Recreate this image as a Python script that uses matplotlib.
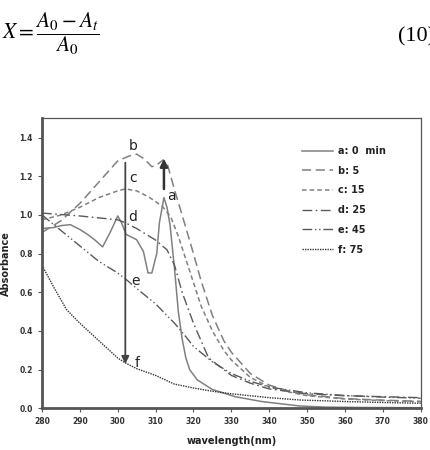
import numpy as np
import matplotlib
matplotlib.use('Agg')
import matplotlib.pyplot as plt

plt.rcParams['mathtext.fontset'] = 'stix'
plt.rcParams['font.family'] = 'DejaVu Sans'

# spectra (wavelength nm, absorbance)
wl_a = [280, 283, 285, 287.5, 290, 292, 294, 296, 298, 300, 301, 302.2, 305, 306.8, 308, 309, 310.3, 311, 312.2, 313, 313.8, 315, 316, 317, 318, 319, 321, 325, 331, 338, 348, 355, 365, 380]
ab_a = [0.93, 0.935, 0.945, 0.95, 0.925, 0.90, 0.87, 0.835, 0.91, 0.995, 0.96, 0.90, 0.872, 0.81, 0.70, 0.70, 0.80, 0.96, 1.09, 1.04, 0.95, 0.72, 0.50, 0.36, 0.26, 0.20, 0.147, 0.097, 0.06, 0.035, 0.012, 0.006, 0.004, 0.003]

wl_b = [280, 285, 290, 295, 300, 303, 305, 307, 309, 310, 312, 313, 315, 317, 320, 322, 325, 328, 330, 335, 340, 345, 350, 360, 370, 380]
ab_b = [0.91, 0.97, 1.06, 1.17, 1.28, 1.305, 1.315, 1.29, 1.25, 1.255, 1.285, 1.27, 1.13, 1.00, 0.80, 0.66, 0.48, 0.35, 0.29, 0.18, 0.12, 0.09, 0.07, 0.05, 0.042, 0.036]

wl_c = [280, 285, 290, 295, 300, 302, 305, 308, 310, 312, 314, 316, 318, 320, 322, 325, 328, 330, 335, 340, 345, 350, 360, 370, 380]
ab_c = [0.975, 1.0, 1.04, 1.09, 1.125, 1.135, 1.125, 1.095, 1.07, 1.04, 0.99, 0.89, 0.77, 0.65, 0.53, 0.40, 0.30, 0.25, 0.16, 0.11, 0.085, 0.065, 0.048, 0.04, 0.034]

wl_d = [280, 290, 300, 302, 305, 310, 313, 315, 317, 320, 324, 330, 335, 340, 350, 360, 370, 380]
ab_d = [1.01, 0.995, 0.975, 0.96, 0.93, 0.87, 0.82, 0.74, 0.60, 0.44, 0.26, 0.17, 0.13, 0.10, 0.075, 0.065, 0.06, 0.055]

wl_e = [280, 285, 290, 295, 300, 302, 305, 310, 315, 318, 320, 325, 330, 335, 340, 350, 360, 370, 380]
ab_e = [1.0, 0.92, 0.84, 0.76, 0.70, 0.67, 0.62, 0.54, 0.44, 0.37, 0.32, 0.24, 0.18, 0.14, 0.11, 0.08, 0.066, 0.058, 0.052]

wl_f = [280, 283, 286.5, 290, 295, 300, 302, 305, 310, 315, 320, 325, 330, 340, 348, 360, 370, 380]
ab_f = [0.74, 0.63, 0.51, 0.44, 0.35, 0.26, 0.235, 0.205, 0.17, 0.125, 0.105, 0.088, 0.075, 0.055, 0.043, 0.035, 0.03, 0.026]

labels = ['a: 0  min', 'b: 5', 'c: 15', 'd: 25', 'e: 45', 'f: 75']

fig = plt.figure(figsize=(4.3, 4.5), dpi=100, facecolor='w')

# equation above the chart
fig.text(0.005, 0.925, r'$X=\dfrac{A_0-A_t}{A_0}$', fontsize=15.5, va='center', ha='left')
fig.text(0.925, 0.918, '(10)', fontsize=16, family='Liberation Serif', va='center', ha='left')

ax = fig.add_axes([0.0977, 0.0927, 0.8806, 0.6443])
gray = '#808080'
ax.plot(wl_a, ab_a, color=gray, lw=1.1, ls='-', label=labels[0])
ax.plot(wl_b, ab_b, color=gray, lw=1.1, ls=(0, (6, 3)), label=labels[1])
ax.plot(wl_c, ab_c, color=gray, lw=1.1, ls=(0, (3, 2)), label=labels[2])
ax.plot(wl_d, ab_d, color='#5a5a5a', lw=1.0, ls=(0, (7, 2.5, 1.2, 2.5)), label=labels[3])
ax.plot(wl_e, ab_e, color='#5a5a5a', lw=1.0, ls=(0, (7, 2, 1, 2, 1, 2)), label=labels[4])
ax.plot(wl_f, ab_f, color='#333333', lw=1.0, ls=(0, (1, 0.8)), label=labels[5])

# arrows
ax.annotate('', xy=(302, 0.215), xytext=(302, 1.285),
            arrowprops=dict(arrowstyle='-|>', color='#444444', lw=1.3, mutation_scale=11))
ax.annotate('', xy=(312.2, 1.305), xytext=(312.2, 1.12),
            arrowprops=dict(arrowstyle='-|>', color='#333333', lw=1.8, mutation_scale=11))

# curve letters
for txt, x, y in [('b', 304.1, 1.355), ('c', 304.1, 1.19), ('d', 304.0, 0.99),
                  ('a', 314.2, 1.096), ('e', 304.6, 0.661), ('f', 305.2, 0.233)]:
    ax.text(x, y, txt, fontsize=10, color='#222222', ha='center', va='center')

ax.set_xlim(280, 380)
ax.set_ylim(0, 1.5)
ax.set_xticks(np.arange(280, 381, 10))
ax.set_yticks(np.arange(0, 1.41, 0.2))
ax.set_yticklabels(['%.1f' % v for v in np.arange(0, 1.41, 0.2)])
ax.tick_params(labelsize=5.5, length=3, width=0.8, color='#555555', direction='out', top=False, right=False)
for lab in ax.get_xticklabels() + ax.get_yticklabels():
    lab.set_fontweight('bold')
    lab.set_color('#333333')
ax.set_xlabel('wavelength(nm)', fontsize=7, fontweight='bold', color='#222222', labelpad=7)
ax.set_ylabel('Absorbance', fontsize=7, fontweight='bold', color='#222222', labelpad=6)
ax.spines['left'].set_linewidth(2.0)
ax.spines['bottom'].set_linewidth(2.0)
ax.spines['top'].set_linewidth(0.9)
ax.spines['right'].set_linewidth(0.9)
for s in ax.spines.values():
    s.set_color('#555555')

leg = ax.legend(loc='upper right', bbox_to_anchor=(0.93, 0.935), frameon=False,
                prop={'size': 7, 'weight': 'bold'}, handlelength=3.2, handletextpad=0.5,
                labelspacing=1.0)
for t in leg.get_texts():
    t.set_color('#222222')

fig.savefig('out.png', dpi=100)
